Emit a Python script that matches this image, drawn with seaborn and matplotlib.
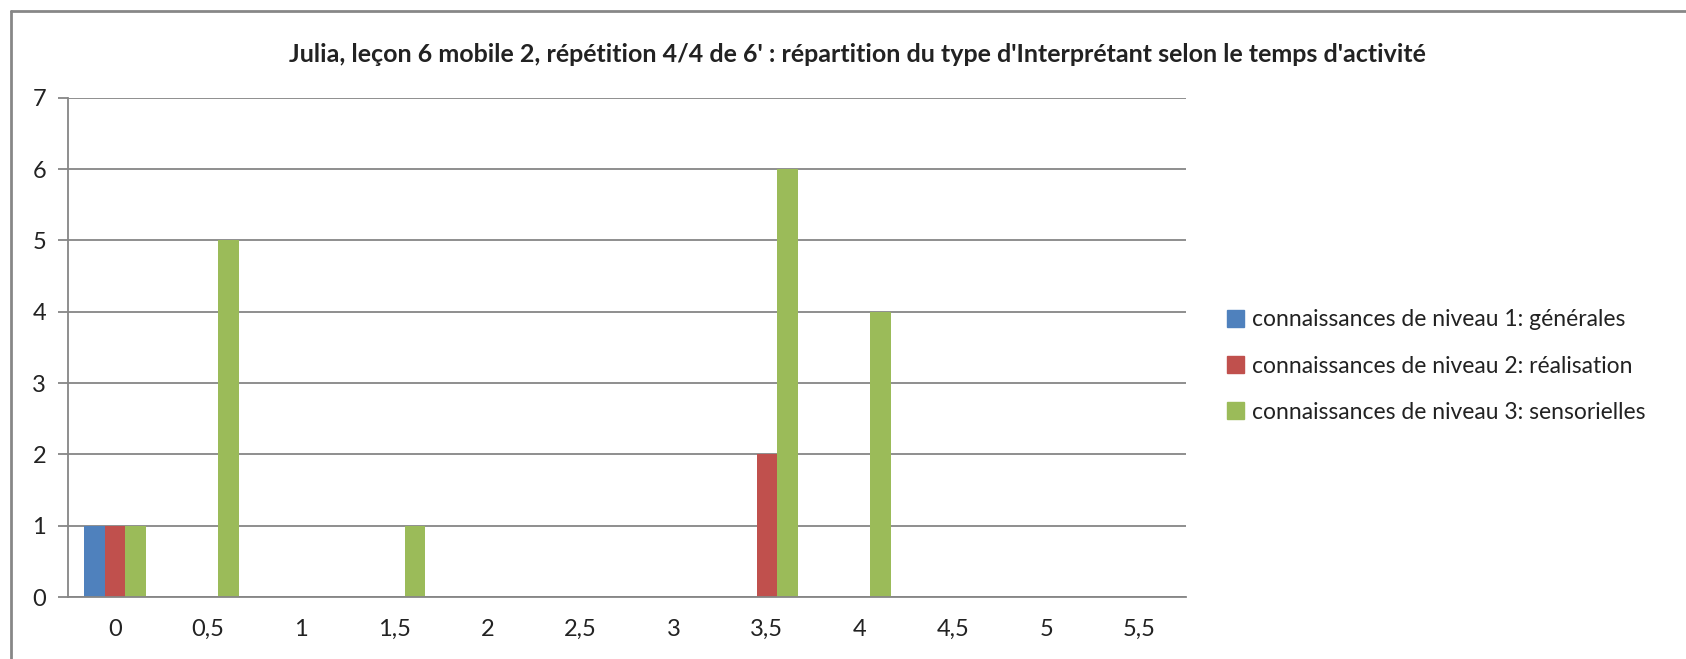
import pandas as pd
import matplotlib.pyplot as plt
import seaborn as sns
from matplotlib.lines import Line2D

# data
temps = ['0', '0,5', '1', '1,5', '2', '2,5', '3', '3,5', '4', '4,5', '5', '5,5']
series = ['connaissances de niveau 1: générales',
          'connaissances de niveau 2: réalisation',
          'connaissances de niveau 3: sensorielles']
niveau1 = [1, 0, 0, 0, 0, 0, 0, 0, 0, 0, 0, 0]
niveau2 = [1, 0, 0, 0, 0, 0, 0, 2, 0, 0, 0, 0]
niveau3 = [1, 5, 0, 1, 0, 0, 0, 6, 4, 0, 0, 0]
colors = ['#4F81BD', '#C0504D', '#9BBB59']

rows = []
for name, vals in zip(series, [niveau1, niveau2, niveau3]):
    for t, v in zip(temps, vals):
        rows.append({'Temps': t, 'Type': name, 'Nombre': v})
df = pd.DataFrame(rows)

sns.set_style('white')
plt.rcParams['font.family'] = ['Lato', 'DejaVu Sans']

W, H = 1686, 659
fig = plt.figure(figsize=(W / 100, H / 100), dpi=100)
ax = fig.add_axes([68.3 / W, 1 - 597 / H, (1186 - 68.3) / W, (597 - 97.7) / H])

sns.barplot(data=df, x='Temps', y='Nombre', hue='Type', order=temps,
            hue_order=series, palette=colors, width=0.66, gap=0,
            saturation=1, linewidth=0, ax=ax, legend=False)

grid_c = '#868686'
txt_c = '#222222'
ax.set_ylim(0, 7)
ax.set_xlim(-0.5, len(temps) - 0.5)
ax.set_yticks(range(8))
ax.yaxis.grid(True, color=grid_c, linewidth=1.3)
ax.set_axisbelow(True)
for s in ['top', 'right']:
    ax.spines[s].set_visible(False)
for s in ['left', 'bottom']:
    ax.spines[s].set_color(grid_c)
    ax.spines[s].set_linewidth(1.3)

# excel style: ticks between categories, labels centred
ax.set_xticks([i - 0.5 for i in range(len(temps) + 1)], minor=True)
ax.set_xticks(range(len(temps)))
ax.set_xticklabels(temps)
ax.tick_params(axis='x', which='major', length=0, pad=16, labelsize=17, labelcolor=txt_c)
ax.tick_params(axis='x', which='minor', length=7, width=1.3, color=grid_c, direction='out')
ax.tick_params(axis='y', length=7, width=1.3, color=grid_c, pad=9, labelsize=17,
               labelcolor=txt_c, left=True)
ax.set_xlabel('')
ax.set_ylabel('')

fig.text(857 / W, 1 - 54 / H,
         "Julia, leçon 6 mobile 2, répétition 4/4 de 6' : répartition du type "
         "d'Interprétant selon le temps d'activité",
         ha='center', va='center', fontsize=18, fontweight='bold', color=txt_c)

handles = [plt.Rectangle((0, 0), 1, 1, color=c) for c in colors]
fig.legend(handles, series, loc='center left', bbox_to_anchor=(1206 / W, 1 - 366 / H),
           frameon=False, fontsize=16.5, handlelength=0.75, handleheight=0.75,
           handletextpad=0.35, labelspacing=1.1, labelcolor=txt_c)

# outer chart frame (top and left edges visible)
fig.add_artist(Line2D([11 / W, 1], [1 - 11 / H, 1 - 11 / H], color='#878787', linewidth=2))
fig.add_artist(Line2D([11 / W, 11 / W], [0, 1 - 11 / H], color='#878787', linewidth=2))

fig.savefig('out.png', dpi=100, facecolor='white')
